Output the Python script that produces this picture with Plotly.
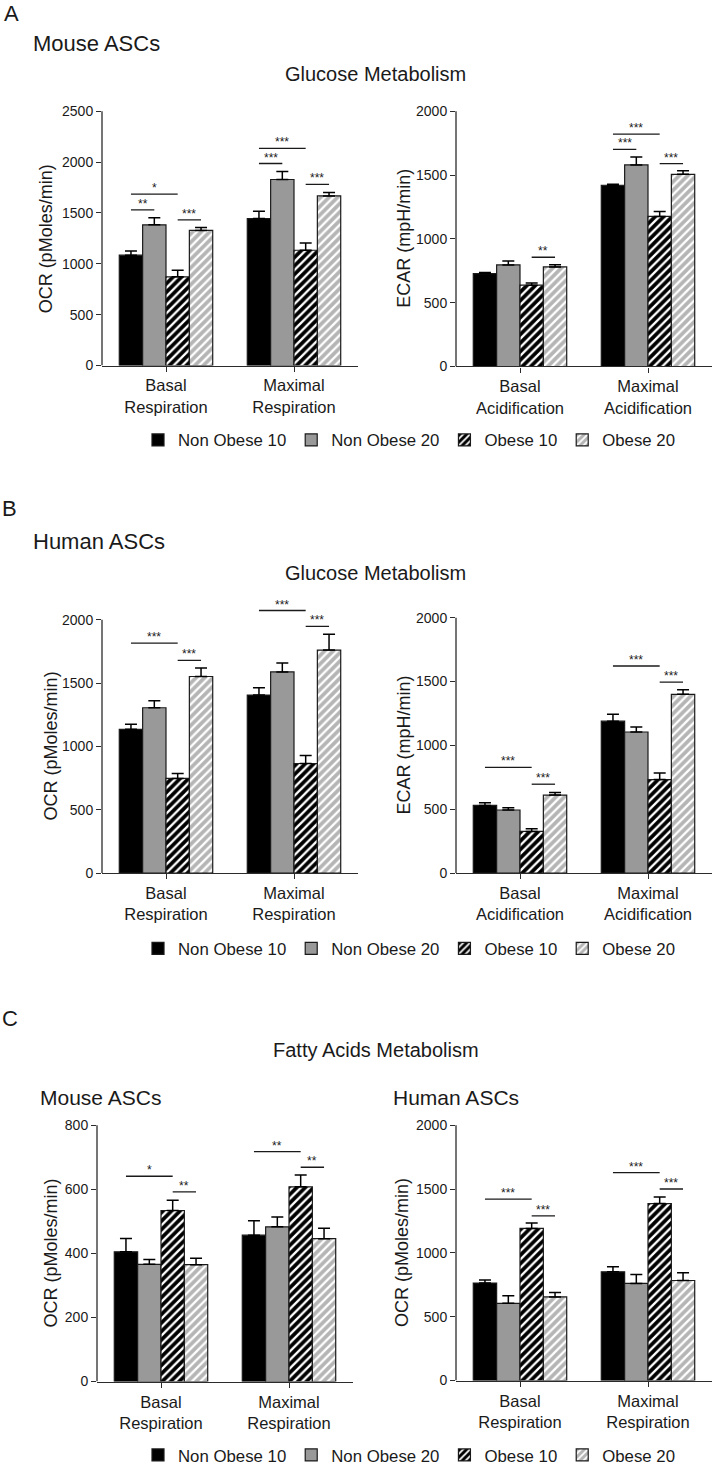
import plotly.graph_objects as go

W, H = 714, 1473
FONT = "Arial, Liberation Sans, Helvetica, sans-serif"

series = ["Non Obese 10", "Non Obese 20", "Obese 10", "Obese 20"]
resp_cats = ["Basal<br>Respiration", "Maximal<br>Respiration"]
acid_cats = ["Basal<br>Acidification", "Maximal<br>Acidification"]

# rows: series (NO10, NO20, O10, O20); columns: Basal, Maximal
a_ocr_mean = [[1085, 1445], [1383, 1829], [872, 1133], [1328, 1667]]
a_ocr_sem = [[41, 72], [69, 79], [65, 71], [29, 35]]
a_ecar_mean = [[728, 1420], [796, 1579], [637, 1176], [780, 1506]]
a_ecar_sem = [[8, 8], [31, 62], [18, 39], [18, 28]]

b_ocr_mean = [[1135, 1405], [1305, 1588], [747, 865], [1552, 1761]]
b_ocr_sem = [[39, 58], [55, 71], [39, 63], [68, 124]]
b_ecar_mean = [[530, 1190], [494, 1105], [326, 732], [611, 1400]]
b_ecar_sem = [[21, 55], [18, 39], [21, 52], [20, 36]]

c_mouse_mean = [[405, 457], [366, 483], [534, 608], [365, 446]]
c_mouse_sem = [[42, 45], [15, 31], [32, 37], [20, 33]]
c_human_mean = [[764, 852], [605, 761], [1192, 1387], [655, 784]]
c_human_sem = [[23, 39], [60, 70], [42, 52], [36, 60]]

# significance brackets: (category index, from series, to series, height, label)
a_ocr_sig = [(0, 0, 2, 1686, "*"), (0, 0, 1, 1530, "**"), (0, 2, 3, 1432, "***"),
             (1, 0, 2, 2135, "***"), (1, 0, 1, 1986, "***"), (1, 2, 3, 1780, "***")]
a_ecar_sig = [(0, 2, 3, 856, "**"), (1, 0, 2, 1821, "***"), (1, 0, 1, 1701, "***"),
              (1, 2, 3, 1589, "***")]
b_ocr_sig = [(0, 0, 2, 1816, "***"), (0, 2, 3, 1680, "***"),
             (1, 0, 2, 2073, "***"), (1, 2, 3, 1948, "***")]
b_ecar_sig = [(0, 0, 2, 828, "***"), (0, 2, 3, 696, "***"),
              (1, 0, 2, 1622, "***"), (1, 2, 3, 1496, "***")]
c_mouse_sig = [(0, 0, 2, 641, "*"), (0, 2, 3, 592, "**"),
               (1, 0, 2, 718, "**"), (1, 2, 3, 669, "**")]
c_human_sig = [(0, 0, 2, 1421, "***"), (0, 2, 3, 1291, "***"),
               (1, 0, 2, 1629, "***"), (1, 2, 3, 1501, "***")]

ocr_title = "OCR (pMoles/min)"
ecar_title = "ECAR (mpH/min)"

# layout geometry in pixels: x-left, x-right, y-bottom, y-top(tick max), title x
panels = [
    dict(mean=a_ocr_mean, sem=a_ocr_sem, sig=a_ocr_sig, cats=resp_cats, title=ocr_title,
         ymax=2500, step=500, px=(102, 358, 368, 112, 46), legend="legend", showleg=True),
    dict(mean=a_ecar_mean, sem=a_ecar_sem, sig=a_ecar_sig, cats=acid_cats, title=ecar_title,
         ymax=2000, step=500, px=(456, 712, 369, 112, 404), legend="legend", showleg=False),
    dict(mean=b_ocr_mean, sem=b_ocr_sem, sig=b_ocr_sig, cats=resp_cats, title=ocr_title,
         ymax=2000, step=500, px=(102, 358, 879, 624, 51), legend="legend2", showleg=True),
    dict(mean=b_ecar_mean, sem=b_ecar_sem, sig=b_ecar_sig, cats=acid_cats, title=ecar_title,
         ymax=2000, step=500, px=(456, 712, 879, 622, 404), legend="legend2", showleg=False),
    dict(mean=c_mouse_mean, sem=c_mouse_sem, sig=c_mouse_sig, cats=resp_cats, title=ocr_title,
         ymax=800, step=200, px=(97, 353, 1391, 1133, 51), legend="legend3", showleg=True),
    dict(mean=c_human_mean, sem=c_human_sem, sig=c_human_sig, cats=resp_cats, title=ocr_title,
         ymax=2000, step=500, px=(456, 712, 1390, 1133, 402), legend="legend3", showleg=False),
]

BARGAP = 0.27
EXT = 1.12
AXC = "#2b2b2b"


def pattern(bg):
    return dict(shape="/", fgcolor="white", bgcolor=bg, size=6, solidity=0.38,
                fillmode="replace")


styles = [
    dict(color="black"),
    dict(color="#999999"),
    dict(color="black", pattern=pattern("black")),
    dict(color="#b5b5b5", pattern=pattern("#b5b5b5")),
]

fig = go.Figure()
shapes = []
annots = []
layout_axes = {}

for k, p in enumerate(panels):
    n = "" if k == 0 else str(k + 1)
    xa, ya = "x" + n, "y" + n
    xl, xr, yb, yt, tx = p["px"]
    h = yb - yt
    top_ext = yb - h * EXT
    layout_axes["xaxis" + n] = dict(
        domain=[xl / W, xr / W], anchor=ya, range=[-0.5, 1.5],
        tickvals=[0, 1], ticktext=p["cats"], ticks="outside", ticklen=5,
        tickwidth=1.3, tickcolor=AXC, showline=True, linecolor=AXC, linewidth=1.3,
        showgrid=False, zeroline=False, tickfont=dict(size=16.5, color="#1a1a1a"),
        fixedrange=True)
    layout_axes["yaxis" + n] = dict(
        domain=[1 - yb / H, 1 - top_ext / H], anchor=xa,
        range=[0, p["ymax"] * EXT],
        tickvals=list(range(0, p["ymax"] + 1, p["step"])),
        ticks="outside", ticklen=5, tickwidth=1.3, tickcolor=AXC,
        showline=False, showgrid=False, zeroline=False,
        tickfont=dict(size=14, color="#1a1a1a"), fixedrange=True)
    # y axis line up to top tick
    shapes.append(dict(type="line", xref=xa + " domain", x0=0, x1=0, yref=ya,
                       y0=0, y1=p["ymax"], line=dict(color=AXC, width=1.3)))
    for i, s in enumerate(series):
        fig.add_trace(go.Bar(
            x=[0, 1], y=p["mean"][i], name=s, xaxis=xa, yaxis=ya,
            legend=p["legend"], showlegend=p["showleg"],
            marker=dict(line=dict(color="#1a1a1a", width=1.2), **styles[i]),
            error_y=dict(type="data", symmetric=False, array=p["sem"][i],
                         arrayminus=[0, 0], color="black", thickness=1.5, width=6),
        ))
    w = (1 - BARGAP) / 4
    for (g, i, j, yv, lab) in p["sig"]:
        x0 = g + (i - 1.5) * w
        x1 = g + (j - 1.5) * w
        shapes.append(dict(type="line", xref=xa, yref=ya, x0=x0, x1=x1, y0=yv, y1=yv,
                           line=dict(color="#1a1a1a", width=1.3)))
        annots.append(dict(xref=xa, yref=ya, x=(x0 + x1) / 2, y=yv, text=lab,
                           showarrow=False, yanchor="bottom", yshift=-3,
                           font=dict(size=12, color="#1a1a1a")))
    annots.append(dict(xref="paper", yref="paper", x=tx / W, y=1 - (yb + yt) / 2 / H,
                       text=p["title"], textangle=-90, showarrow=False,
                       xanchor="center", yanchor="middle",
                       font=dict(size=18, color="#1a1a1a")))


def txt(text, xpx, ypx, size, xanchor="left"):
    annots.append(dict(xref="paper", yref="paper", x=xpx / W, y=1 - ypx / H,
                       text=text, showarrow=False, xanchor=xanchor, yanchor="middle",
                       font=dict(size=size, color="#1a1a1a")))


txt("A", 2, 14, 22)
txt("Mouse ASCs", 31, 44, 22)
txt("Glucose Metabolism", 375, 75, 20, "center")
txt("B", 0, 512, 22)
txt("Human ASCs", 31, 545, 22)
txt("Glucose Metabolism", 375, 577, 20, "center")
txt("C", 0, 1025, 22)
txt("Fatty Acids Metabolism", 376, 1057, 20, "center")
txt("Mouse ASCs", 38, 1105, 21)
txt("Human ASCs", 391, 1105, 21)

leg_common = dict(orientation="h", xanchor="left", yanchor="middle", x=138 / W,
                  font=dict(size=16.8, color="#1a1a1a"), bgcolor="rgba(0,0,0,0)",
                  itemwidth=30, traceorder="normal")

fig.update_layout(
    width=W, height=H, margin=dict(l=0, r=0, t=0, b=0),
    paper_bgcolor="white", plot_bgcolor="white",
    font=dict(family=FONT, color="#1a1a1a"),
    barmode="group", bargap=BARGAP, bargroupgap=0,
    shapes=shapes, annotations=annots,
    legend=dict(y=1 - 443 / H, **leg_common),
    legend2=dict(y=1 - 955 / H, **leg_common),
    legend3=dict(y=1 - 1465 / H, **leg_common),
    **layout_axes,
)

fig.write_html("out.html", config={"displayModeBar": False},
               post_script="document.body.style.margin='0';")
